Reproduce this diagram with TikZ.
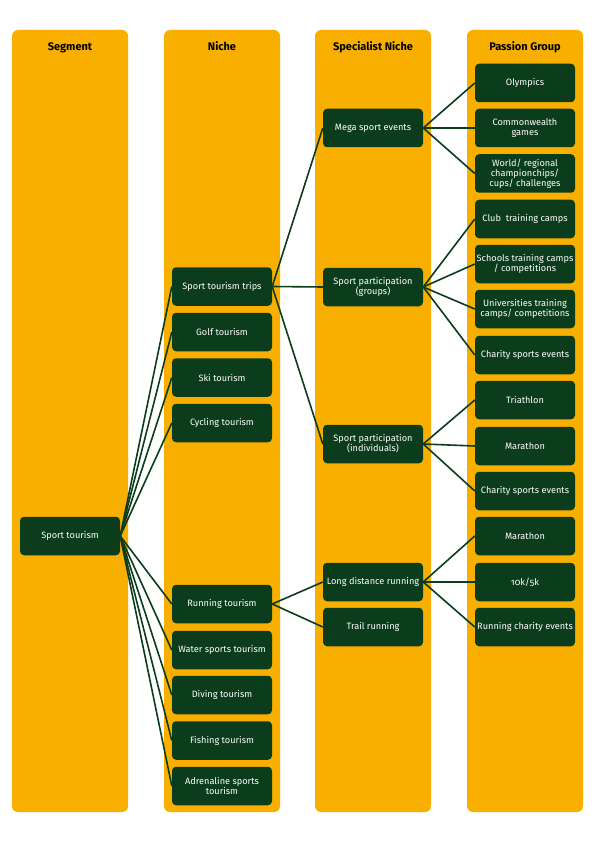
\documentclass[tikz,border=0pt]{standalone}
\usepackage{fontspec}
\setmainfont{Fira Sans}[Numbers=OldStyle]
\definecolor{org}{HTML}{F8AF00}
\definecolor{dkg}{HTML}{0B3C1C}
\begin{document}
\begin{tikzpicture}[x=1pt,y=-1pt,
  col/.style={fill=org, rounded corners=6pt},
  box/.style={fill=dkg, text=white, rounded corners=4pt, minimum width=100pt, minimum height=38.5pt, inner sep=1pt, align=center, font=\fontsize{9.2}{10}\selectfont},
  hdr/.style={font=\fontsize{11}{12}\selectfont\bfseries, text=black, anchor=base},
  link/.style={draw=dkg, line width=1.6pt}]
\useasboundingbox (0,0) rectangle (595,842);
% columns
\fill[col] (12,30) rectangle (128,812);
\fill[col] (164,30) rectangle (280,812);
\fill[col] (315,30) rectangle (431,812);
\fill[col] (467,30) rectangle (583,812);
% headers
\node[hdr] (hSeg) at (70,51) {Segment};
\node[hdr] (hNiche) at (222,51) {Niche};
\node[hdr] (hSpec) at (373,51) {Specialist Niche};
\node[hdr] (hPass) at (525,51) {Passion Group};
% segment
\node[box] (st) at (70,536) {Sport tourism};
% niche
\node[box] (trips) at (222,286.5) {Sport tourism trips};
\node[box] (golf) at (222,332) {Golf tourism};
\node[box] (ski) at (222,377.5) {Ski tourism};
\node[box] (cyc) at (222,423) {Cycling tourism};
\node[box] (run) at (222,604) {Running tourism};
\node[box] (water) at (222,650) {Water sports tourism};
\node[box] (dive) at (222,695) {Diving tourism};
\node[box] (fish) at (222,740.5) {Fishing tourism};
\node[box] (adr) at (222,786) {Adrenaline sports\\tourism};
% specialist niche
\node[box] (mega) at (373,128) {Mega sport events};
\node[box] (grp) at (373,287) {Sport participation\\(groups)};
\node[box] (ind) at (373,444) {Sport participation\\(individuals)};
\node[box] (ldr) at (373,582) {Long distance running};
\node[box] (trail) at (373,627) {Trail running};
% passion group
\node[box] (oly) at (525,83) {Olympics};
\node[box] (cw) at (525,128) {Commonwealth\\games};
\node[box] (world) at (525,173.5) {World/ regional\\championchips/\\cups/ challenges};
\node[box] (club) at (525,219) {Club\ \ training camps};
\node[box] (school) at (525,264) {Schools training camps\\/ competitions};
\node[box] (uni) at (525,309) {Universities training\\camps/ competitions};
\node[box] (char1) at (525,355) {Charity sports events};
\node[box] (tri) at (525,400) {Triathlon};
\node[box] (mar1) at (525,446) {Marathon};
\node[box] (char2) at (525,491) {Charity sports events};
\node[box] (mar2) at (525,536) {Marathon};
\node[box] (tenk) at (525,582) {10k/5k};
\node[box] (rce) at (525,627) {Running charity events};
% links segment -> niche
\foreach \n in {trips,golf,ski,cyc,run,water,dive,fish,adr}
  \draw[link] (st.east) -- (\n.west);
% niche -> specialist
\foreach \n in {mega,grp,ind}
  \draw[link] (trips.east) -- (\n.west);
\foreach \n in {ldr,trail}
  \draw[link] (run.east) -- (\n.west);
% specialist -> passion
\foreach \n in {oly,cw,world}
  \draw[link] (mega.east) -- (\n.west);
\foreach \n in {club,school,uni,char1}
  \draw[link] (grp.east) -- (\n.west);
\foreach \n in {tri,mar1,char2}
  \draw[link] (ind.east) -- (\n.west);
\foreach \n in {mar2,tenk,rce}
  \draw[link] (ldr.east) -- (\n.west);
\end{tikzpicture}
\end{document}
